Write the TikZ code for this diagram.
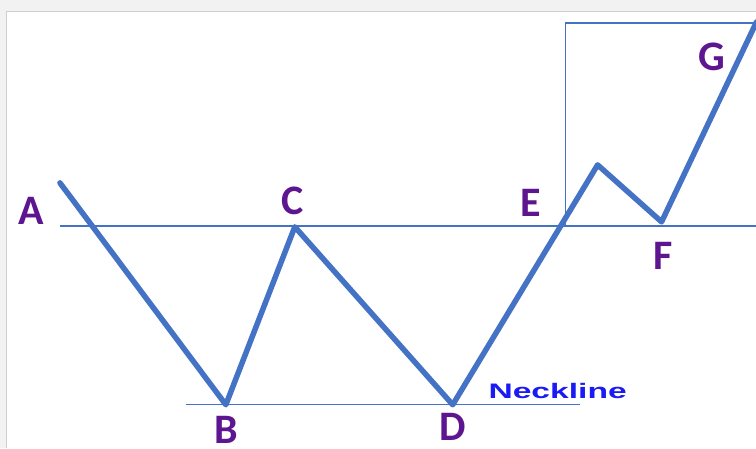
\documentclass[tikz,border=0pt]{standalone}
\usepackage{fontspec}
\usepackage{tikz}
\usepackage{xcolor}
\usetikzlibrary{calc, positioning}
\newfontfamily\labelfont{Carlito}
\newfontfamily\necklinefont{Liberation Sans}
\definecolor{priceblue}{HTML}{4472C4}
\definecolor{labelpurple}{HTML}{5E1690}
\definecolor{neckblue}{HTML}{1A1AF5}
\definecolor{framegray}{HTML}{F2F2F2}
\definecolor{edgegray}{HTML}{CFCFCF}

\tikzset{
    pricepath/.style={line width=5.5pt, priceblue, line join=round, line cap=round},
    guideline/.style={line width=1.3pt, priceblue},
    pointlabel/.style={text=labelpurple, font=\labelfont\bfseries\fontsize{42}{42}\selectfont, inner sep=0pt}
}

\begin{document}
\begin{tikzpicture}[x=1pt, y=-1pt]
    % --- Frame ---
    \fill[framegray] (0,0) rectangle (756,448);
    \fill[white] (7,12) rectangle (756,448);
    \draw[edgegray, line width=1pt] (7,448) -- (7,12) -- (756,12);
    \useasboundingbox (0,0) rectangle (756,448);

    % --- Turning points ---
    \coordinate (A) at (60,183);
    \coordinate (B) at (226,405);
    \coordinate (C) at (295,227);
    \coordinate (D) at (453,405);
    \coordinate (peak) at (598,165);
    \coordinate (F) at (662,222);
    \coordinate (G) at (757,22);
    \coordinate (E) at (563,226);

    % --- Neckline and support ---
    \coordinate (neck_left) at (60,226);
    \coordinate (neck_right) at (756,226);
    \draw[guideline] (neck_left) -- (neck_right);
    \coordinate (low_left) at (186,405);
    \coordinate (low_right) at (580,405);
    \draw[guideline] (low_left) -- (low_right);

    % --- Target box ---
    \coordinate (box_bottom) at (566,226);
    \coordinate (box_top) at (566,23);
    \coordinate (box_right) at (756,23);
    \draw[guideline] (box_bottom) -- (box_top) -- (box_right);

    % --- Price path ---
    \draw[pricepath] (A) -- (B) -- (C) -- (D) -- (peak) -- (F) -- (G);

    % --- Labels ---
    \node[pointlabel] (labA) at (31,211) {A};
    \node[pointlabel] (labB) at (226,430) {B};
    \node[pointlabel] (labC) at (293,201) {C};
    \node[pointlabel] (labD) at (453,427) {D};
    \node[pointlabel] (labE) at (531,203) {E};
    \node[pointlabel] (labF) at (664,256) {F};
    \node[pointlabel] (labG) at (712,57) {G};
    \node[text=neckblue, font=\necklinefont\bfseries\fontsize{21}{21}\selectfont,
          xscale=1.6, inner sep=0pt] (neckline) at (558,391) {Neckline};
\end{tikzpicture}
\end{document}
